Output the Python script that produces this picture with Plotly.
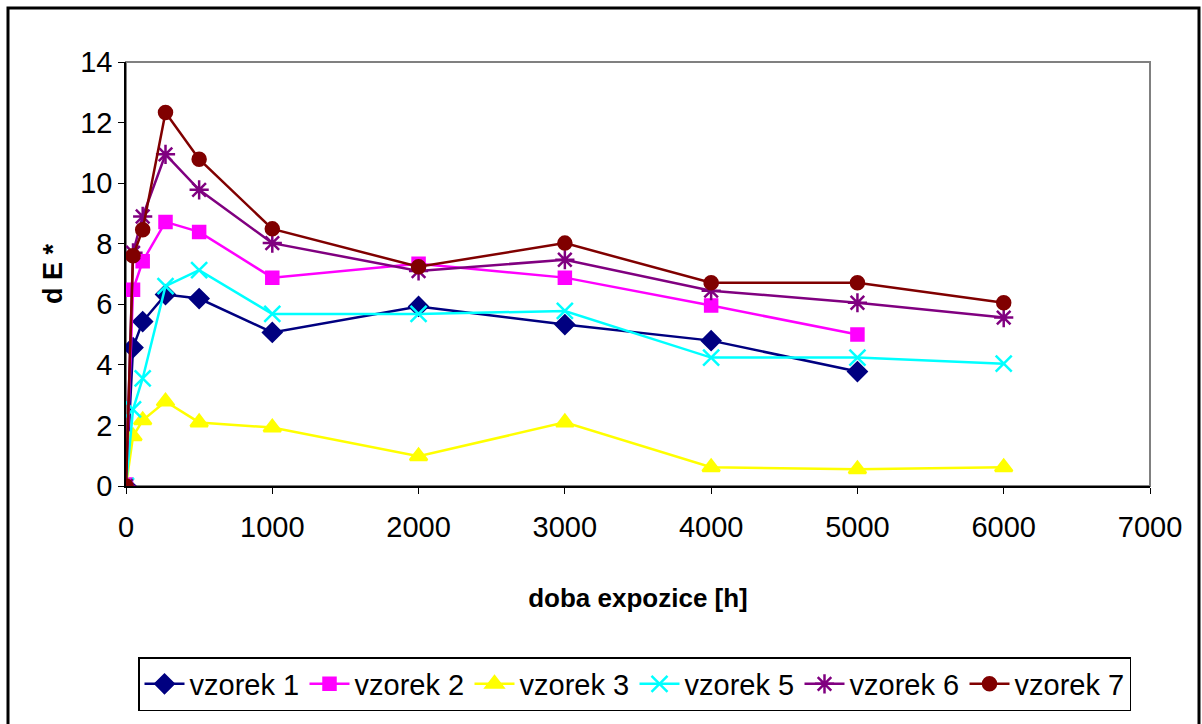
import plotly.graph_objects as go

hours = [0, 48, 114, 270, 500, 1000, 2000, 3000, 4000, 5000, 6000]
vzorek1 = [0.0, 4.57, 5.43, 6.32, 6.19, 5.07, 5.93, 5.33, 4.80, 3.78]
vzorek2 = [0.05, 6.48, 7.42, 8.72, 8.39, 6.88, 7.34, 6.88, 5.96, 5.00]
vzorek3 = [0.0, 1.64, 2.17, 2.79, 2.10, 1.93, 0.98, 2.10, 0.62, 0.55, 0.62]
vzorek5 = [0.0, 2.53, 3.55, 6.60, 7.13, 5.68, 5.68, 5.78, 4.24, 4.24, 4.04]
vzorek6 = [0.0, 7.70, 8.90, 10.95, 9.78, 8.02, 7.10, 7.47, 6.45, 6.05, 5.56]
vzorek7 = [0.0, 7.60, 8.46, 12.33, 10.79, 8.49, 7.24, 8.02, 6.71, 6.71, 6.05]

names = ["vzorek 1", "vzorek 2", "vzorek 3", "vzorek 5", "vzorek 6", "vzorek 7"]
series = [vzorek1, vzorek2, vzorek3, vzorek5, vzorek6, vzorek7]
colors = ["#000080", "#FF00FF", "#FFFF00", "#00FFFF", "#800080", "#800000"]
symbols = ["diamond", "square", "triangle-up", "x-thin-open", "asterisk-open", "circle"]
sizes = [14, 12, 15, 16, 16, 13]

fig = go.Figure()
for name, ys, c, s, sz in zip(names, series, colors, symbols, sizes):
    fig.add_trace(go.Scatter(
        x=hours[:len(ys)], y=ys, name=name, mode="lines+markers",
        line=dict(color=c, width=2.5),
        marker=dict(symbol=s, size=sz, color=c, line=dict(color=c, width=2.5)),
    ))

W, H = 1202, 724
L, R, T, B = 126, 52, 62, 238
pw, ph = W - L - R, H - T - B

def px(xp):
    return (xp - L) / pw

def py(yp):
    return (H - B - yp) / ph

font = "Liberation Sans Narrow, Arial Narrow, Liberation Sans, sans-serif"
bold_font = "Liberation Sans, Arial, sans-serif"
fig.update_layout(
    width=W, height=H,
    margin=dict(l=L, r=R, t=T, b=B),
    paper_bgcolor="white", plot_bgcolor="white",
    font=dict(family=font, size=29, color="black"),
    showlegend=True,
    legend=dict(
        orientation="h", x=px(138), y=py(657), xanchor="left", yanchor="top",
        bordercolor="black", borderwidth=1.5, bgcolor="white",
        font=dict(size=29, family=font), entrywidth=110, itemwidth=40,
        tracegroupgap=0,
    ),
    xaxis=dict(
        range=[0, 7000], tickvals=[0, 1000, 2000, 3000, 4000, 5000, 6000, 7000],
        showgrid=False, zeroline=False, showline=True, linecolor="black", linewidth=1.5,
        ticks="outside", ticklen=6, tickcolor="black", automargin=False,
        ticklabelstandoff=8,
        title=dict(text="<b>doba expozice [h]</b>", font=dict(size=26, family=bold_font), standoff=47),
        tickfont=dict(size=29),
    ),
    yaxis=dict(
        range=[0, 14], tickvals=[0, 2, 4, 6, 8, 10, 12, 14],
        showgrid=False, zeroline=False, showline=True, linecolor="black", linewidth=1.5,
        ticks="outside", ticklen=6, tickcolor="black", automargin=False,
        title=dict(text="<b>d E *</b>", font=dict(size=27, family=bold_font), standoff=10),
        tickfont=dict(size=29),
    ),
    shapes=[
        dict(type="rect", xref="paper", yref="paper", x0=0, x1=1, y0=0, y1=1,
             line=dict(color="#808080", width=2), layer="below"),
        dict(type="rect", xref="paper", yref="paper", x0=px(8), x1=px(1199),
             y0=py(740), y1=py(8), line=dict(color="black", width=3)),
    ],
)
fig.update_traces(hoverinfo="skip")
fig.write_html("out.html")
